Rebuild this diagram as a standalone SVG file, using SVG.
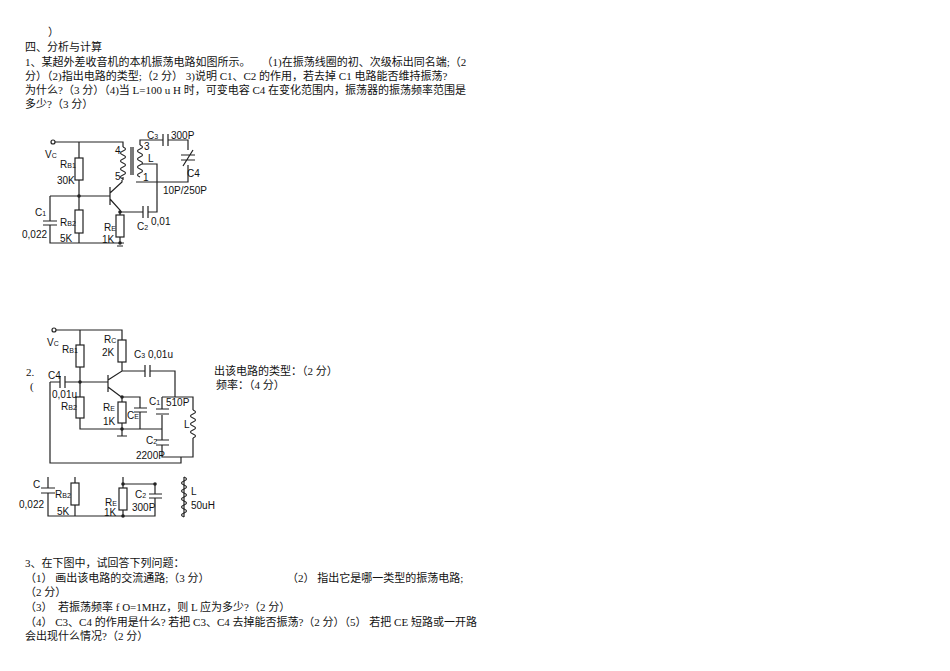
<svg xmlns="http://www.w3.org/2000/svg" width="950" height="671" viewBox="0 0 950 671">
<style>
.t{font-family:"Liberation Serif","Noto Sans CJK SC",serif;font-size:11px;fill:#111}
.l{font-family:"Liberation Sans",sans-serif;font-size:10px;fill:#111}
.s{font-size:7px}
.w{stroke:#222;stroke-width:1.2;fill:none}
.r{stroke:#222;stroke-width:1.2;fill:#fff}
</style>
<rect width="950" height="671" fill="#fff"/>
<g id="text">
<text class="t" x="48" y="36">）</text>
<text class="t" x="25" y="51">四、分析与计算</text>
<text class="t" x="25" y="66">1、某超外差收音机的本机振荡电路如图所示。　　（1)在振荡线圈的初、次级标出同名端;（2</text>
<text class="t" x="25" y="80">分）（2)指出电路的类型;（2 分） 3)说明 C1、C2 的作用，若去掉 C1 电路能否维持振荡?</text>
<text class="t" x="25" y="94">为什么?（3 分）（4)当 L=100 u H 时，可变电容 C4 在变化范围内，振荡器的振荡频率范围是</text>
<text class="t" x="25" y="108">多少?（3 分）</text>
<text class="t" x="26" y="376">2.</text>
<text class="t" x="30" y="390">(</text>
<text class="t" x="214" y="375">出该电路的类型：（2 分）</text>
<text class="t" x="216" y="389">频率：（4 分）</text>
<text class="t" x="25" y="567">3、在下图中，试回答下列问题：</text>
<text class="t" x="25" y="582">（1） 画出该电路的交流通路;（3 分）</text>
<text class="t" x="287" y="582">（2） 指出它是哪一类型的振荡电路;</text>
<text class="t" x="25" y="596">（2 分）</text>
<text class="t" x="25" y="611">（3）　若振荡频率 f O=1MHZ，则 L 应为多少?（2 分）</text>
<text class="t" x="25" y="626">（4） C3、C4 的作用是什么? 若把 C3、C4 去掉能否振荡?（2 分）（5） 若把 CE 短路或一开路</text>
<text class="t" x="25" y="640">会出现什么情况?（2 分）</text>
</g>
<g id="circuit1">
<circle cx="53" cy="142" r="2" class="r"/>
<path class="w" d="M55 142H123V147M79 142V158M79 180V233M79 243V233M50 196H110M50 196V221M50 225V243H120M110 187V205M110 193L122 182V180M110 199L120 210L121 212M120 212V215M120 237V243M116 243H124M117 246H123M120 212H143M148 212H157V164H142M140 145V140H163M168 140H188V150M188 165V182H140M136 182H144M123 177V180"/>
<path class="w" d="M43 221H57M43 225H57M143 206V218M148 206V218M163 134V146M168 134V146M181 155H195M181 160H195M183 166L193 150"/>
<path class="w" d="M123 147q5 2 0 4q-5 2 0 4q5 2 0 4q-5 2 0 4q5 2 0 4q-5 2 0 4q5 2 0 4q-5 2 0 4M140 145q5 2 0 4q-5 2 0 4q5 2 0 4q-5 2 0 4q5 2 0 4q-5 2 0 4q5 2 0 4q-5 2 0 4"/>
<path class="w" d="M131 147V175M133 147V175"/>
<rect class="r" x="75" y="158" width="8" height="22"/>
<rect class="r" x="75" y="210" width="8" height="23"/>
<rect class="r" x="116" y="215" width="8" height="22"/>
<circle cx="79" cy="196" r="1.8" fill="#222"/><circle cx="120" cy="212" r="1.8" fill="#222"/><circle cx="120" cy="243" r="1.8" fill="#222"/>
<text class="l" x="45" y="158">V<tspan class="s">C</tspan></text>
<text class="l" x="60" y="168">R<tspan class="s">B1</tspan></text>
<text class="l" x="57" y="184">30K</text>
<text class="l" x="115" y="154">4</text><text class="l" x="115" y="180">5</text>
<text class="l" x="144" y="150">3</text><text class="l" x="148" y="162">L</text><text class="l" x="143" y="181">1</text>
<text class="l" x="147" y="139">C<tspan class="s">3</tspan></text><text class="l" x="171" y="139">300P</text>
<text class="l" x="187" y="177">C4</text><text class="l" x="163" y="194">10P/250P</text>
<text class="l" x="35" y="216">C<tspan class="s">1</tspan></text><text class="l" x="22" y="238">0,022</text>
<text class="l" x="60" y="226">R<tspan class="s">B2</tspan></text><text class="l" x="60" y="242">5K</text>
<text class="l" x="104" y="231">R<tspan class="s">E</tspan></text><text class="l" x="102" y="243">1K</text>
<text class="l" x="137" y="230">C<tspan class="s">2</tspan></text><text class="l" x="151" y="225">0,01</text>
</g>
<g id="circuit2">
<circle cx="54" cy="330" r="2" class="r"/>
<path class="w" d="M56 330H122V340M80 330V345M80 367V397M80 418V429H162M122 362V371M108 375V392M108 380L122 371H145M150 371H175V397M108 387L120 396L122 397M122 397V402M122 423V436M117 436H127M122 397H140V408M140 412V429M134 408H147M134 412H147M50 382H60M65 382H108M60 376V388M65 376V388M50 382V463H181V457M162 397H193V410M193 438V457H162V445M162 440V415M162 409V397M156 409H169M156 414H169M156 440H169M156 445H169M145 365V377M150 365V377"/>
<path class="w" d="M193 410q5 2 0 4q-5 2 0 4q5 2 0 4q-5 2 0 4q5 2 0 4q-5 2 0 4q5 2 0 4"/>
<rect class="r" x="76" y="345" width="8" height="22"/>
<rect class="r" x="76" y="397" width="8" height="21"/>
<rect class="r" x="118" y="340" width="8" height="22"/>
<rect class="r" x="118" y="402" width="8" height="21"/>
<circle cx="80" cy="382" r="1.8" fill="#222"/><circle cx="122" cy="397" r="1.8" fill="#222"/><circle cx="122" cy="429" r="1.8" fill="#222"/>
<text class="l" x="47" y="346">V<tspan class="s">C</tspan></text>
<text class="l" x="62" y="353">R<tspan class="s">B1</tspan></text>
<text class="l" x="104" y="343">R<tspan class="s">C</tspan></text><text class="l" x="102" y="356">2K</text>
<text class="l" x="134" y="358">C<tspan class="s">3</tspan> 0,01u</text>
<text class="l" x="48" y="379">C4</text><text class="l" x="52" y="398">0,01u</text>
<text class="l" x="61" y="410">R<tspan class="s">B2</tspan></text>
<text class="l" x="103" y="411">R<tspan class="s">E</tspan></text><text class="l" x="103" y="425">1K</text>
<text class="l" x="127" y="419">C<tspan class="s">E</tspan></text>
<text class="l" x="149" y="405">C<tspan class="s">1</tspan></text><text class="l" x="166" y="406">510P</text>
<text class="l" x="184" y="428">L</text>
<text class="l" x="146" y="444">C<tspan class="s">2</tspan></text><text class="l" x="136" y="459">2200P</text>
</g>
<g id="circuit3">
<path class="w" d="M48 477V488M48 493V516H108M75 477V483M75 505V516M41 488H55M41 493H55M123 477V488M123 510V516M123 484H155V494M155 498V516H100M149 494H162M149 498H162M184 477V517"/>
<path class="w" d="M184 477q5 2 0 4q-5 2 0 4q5 2 0 4q-5 2 0 4q5 2 0 4q-5 2 0 4q5 2 0 4q-5 2 0 4q5 2 0 4q-5 2 0 4"/>
<rect class="r" x="71" y="483" width="8" height="22"/>
<rect class="r" x="119" y="488" width="8" height="22"/>
<circle cx="123" cy="484" r="1.8" fill="#222"/><circle cx="155" cy="484" r="1.8" fill="#222"/><circle cx="123" cy="516" r="1.8" fill="#222"/>
<text class="l" x="33" y="488">C</text><text class="l" x="19" y="508">0,022</text>
<text class="l" x="55" y="498">R<tspan class="s">B2</tspan></text><text class="l" x="57" y="515">5K</text>
<text class="l" x="105" y="506">R<tspan class="s">E</tspan></text><text class="l" x="104" y="516">1K</text>
<text class="l" x="135" y="498">C<tspan class="s">2</tspan></text><text class="l" x="132" y="511">300P</text>
<text class="l" x="191" y="495">L</text><text class="l" x="191" y="509">50uH</text>
</g>
</svg>
